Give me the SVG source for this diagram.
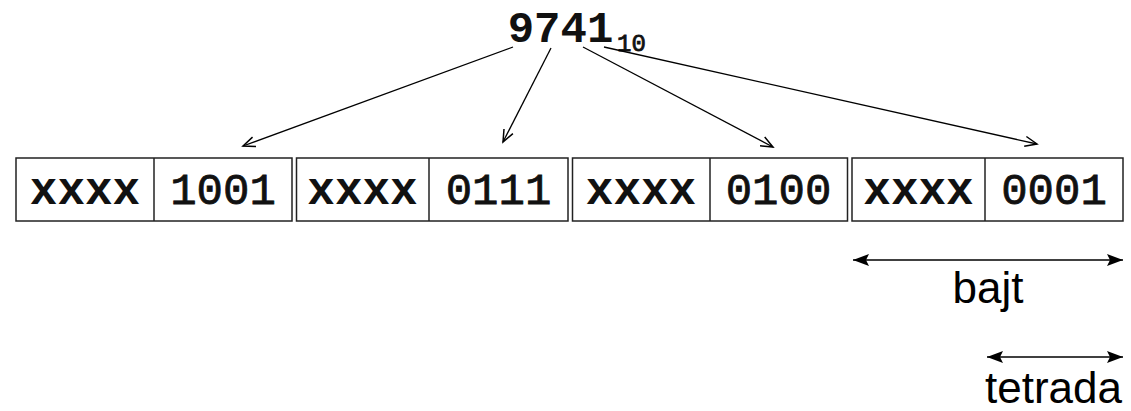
<svg xmlns="http://www.w3.org/2000/svg" width="1131" height="411" viewBox="0 0 1131 411">
<style>
.cell{fill:#fff;stroke:#222;stroke-width:1.5}
.div{stroke:#222;stroke-width:1.5}
.mono{font-family:"Liberation Mono","DejaVu Sans Mono",monospace;font-weight:bold;font-size:44px;fill:#111;text-anchor:middle}
.x{font-size:46px}
.d{font-weight:normal;stroke:#111;stroke-width:0.8}
.lbl{font-family:"Liberation Sans",Arial,sans-serif;font-size:44px;fill:#000}
.conn{stroke:#000;stroke-width:1.3;fill:none}
.dim{stroke:#000;stroke-width:1.5;fill:none}
</style>
<defs>
<marker id="open" markerUnits="userSpaceOnUse" viewBox="-14 -7 16 14" refX="0" refY="0" markerWidth="16" markerHeight="14" orient="auto">
<path d="M-12,-5 L0,0 L-12,5" fill="none" stroke="#000" stroke-width="1.5"/>
</marker>
<marker id="fill" markerUnits="userSpaceOnUse" viewBox="-17 -7 18 14" refX="0" refY="0" markerWidth="18" markerHeight="14" orient="auto-start-reverse">
<path d="M-16,-6 L0,0 L-16,6 L-13,0 Z" fill="#000"/>
</marker>
</defs>
<g id="title">
<text class="mono" x="560.5" y="42">9741</text>
<text class="mono d" x="631.5" y="51" style="font-size:24px">10</text>
</g>
<g id="byte1">
<rect class="cell" x="16" y="158" width="276" height="63"/>
<line class="div" x1="154" y1="158" x2="154" y2="221"/>
<text class="mono x" x="85" y="204">xxxx</text>
<text class="mono d" x="223" y="204">1001</text>
</g>
<g id="byte2">
<rect class="cell" x="296.5" y="158" width="271.5" height="63"/>
<line class="div" x1="429" y1="158" x2="429" y2="221"/>
<text class="mono x" x="362.5" y="204">xxxx</text>
<text class="mono d" x="498.5" y="204">0111</text>
</g>
<g id="byte3">
<rect class="cell" x="572.5" y="158" width="275" height="63"/>
<line class="div" x1="710" y1="158" x2="710" y2="221"/>
<text class="mono x" x="641" y="204">xxxx</text>
<text class="mono d" x="778.5" y="204">0100</text>
</g>
<g id="byte4">
<rect class="cell" x="852" y="158" width="271" height="63"/>
<line class="div" x1="985" y1="158" x2="985" y2="221"/>
<text class="mono x" x="918.5" y="204">xxxx</text>
<text class="mono d" x="1054" y="204">0001</text>
</g>
<g id="connectors">
<line class="conn" x1="513" y1="47" x2="243" y2="146" marker-end="url(#open)"/>
<line class="conn" x1="551" y1="48" x2="503" y2="142" marker-end="url(#open)"/>
<line class="conn" x1="583" y1="47" x2="773" y2="147" marker-end="url(#open)"/>
<line class="conn" x1="604" y1="47" x2="1037" y2="144" marker-end="url(#open)"/>
<line class="dim" x1="853" y1="260" x2="1123" y2="260" marker-start="url(#fill)" marker-end="url(#fill)"/>
<line class="dim" x1="987" y1="357" x2="1123" y2="357" marker-start="url(#fill)" marker-end="url(#fill)"/>
</g>
<g id="labels">
<text class="lbl" x="988" y="303" text-anchor="middle">bajt</text>
<text class="lbl" x="1122" y="403" text-anchor="end">tetrada</text>
</g>
</svg>
